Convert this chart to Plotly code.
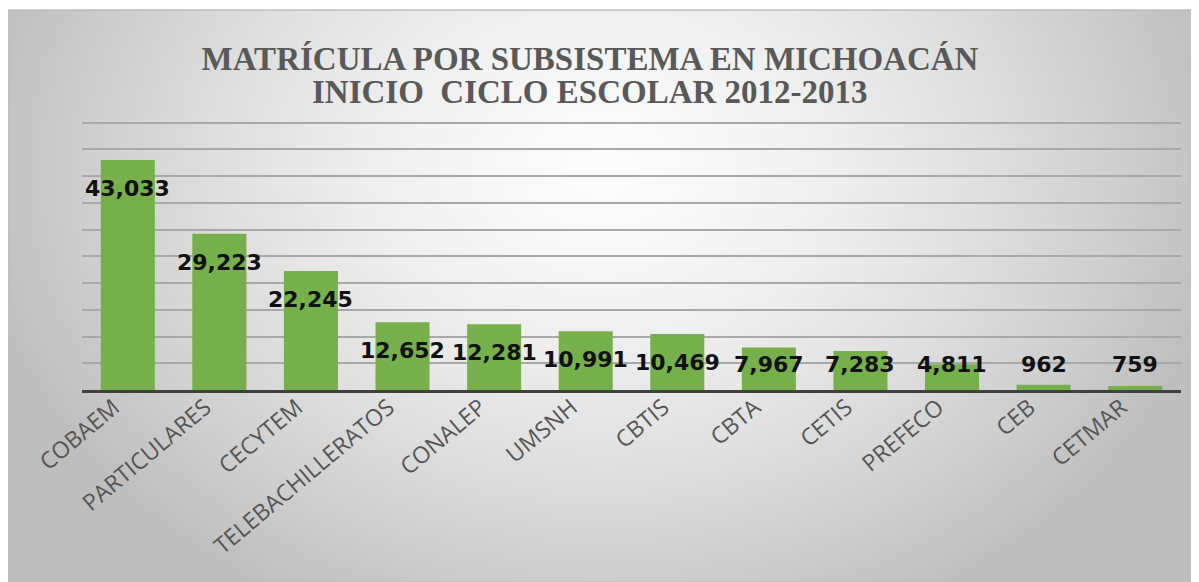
import base64, struct, zlib
import numpy as np
import plotly.graph_objects as go

categories = ["COBAEM", "PARTICULARES", "CECYTEM", "TELEBACHILLERATOS", "CONALEP",
              "UMSNH", "CBTIS", "CBTA", "CETIS", "PREFECO", "CEB", "CETMAR"]
values = [43033, 29223, 22245, 12652, 12281, 10991, 10469, 7967, 7283, 4811, 962, 759]
title_lines = ["MATRÍCULA POR SUBSISTEMA EN MICHOACÁN", "INICIO  CICLO ESCOLAR 2012-2013"]

# page body has an 8px margin; figure is sized to fit the window
W, H = 1191, 574
YMAX = 52000
ML, MR, MB = 74, 18, 192
PH = round(267 * YMAX / 50000)
MT = H - MB - PH
PW = W - ML - MR


def gradient_png():
    w, h = 240, 116
    xs = (np.arange(w) + 0.5) / w * 1193
    ys = (np.arange(h) + 0.5) / h * 572
    X, Y = np.meshgrid(xs, ys)
    d = np.sqrt(((X - 595) / 640) ** 2 + ((Y - 160) / 500) ** 2)
    d = np.clip(d, 0, 1)
    v = 252 - 62 * d ** 1.5
    arr = np.clip(v, 0, 255).astype(np.uint8)
    rgb = np.stack([arr, arr, arr], axis=-1)
    raw = b"".join(b"\x00" + rgb[i].tobytes() for i in range(h))

    def chunk(tag, data):
        c = tag + data
        return struct.pack(">I", len(data)) + c + struct.pack(">I", zlib.crc32(c) & 0xffffffff)

    png = b"\x89PNG\r\n\x1a\n" + chunk(b"IHDR", struct.pack(">IIBBBBB", w, h, 8, 2, 0, 0, 0)) \
        + chunk(b"IDAT", zlib.compress(raw, 9)) + chunk(b"IEND", b"")
    return "data:image/png;base64," + base64.b64encode(png).decode()


fig = go.Figure()
fig.add_trace(go.Bar(x=categories, y=values, marker=dict(color="#75b04b", line=dict(width=0)),
                     hoverinfo="x+y"))

for c, v in zip(categories, values):
    fig.add_annotation(x=c, y=max(v - 5300, 4700), text=f"{v:,}", showarrow=False,
                       font=dict(family="DejaVu Sans", size=22, color="#111111", weight="bold"),
                       xanchor="center", yanchor="middle")

title_font = dict(family="Liberation Serif", size=33, color="#595959", weight="bold")
fig.add_annotation(xref="paper", yref="paper", x=(582 - ML) / PW, y=(H - MB - 84) / PH,
                   text=title_lines[1], showarrow=False, font=title_font,
                   xanchor="center", yanchor="middle")

# background image (gradient frame)
fx0, fy0 = 0, 2
fig.add_layout_image(dict(source=gradient_png(), xref="paper", yref="paper",
                          x=(fx0 - ML) / PW, y=(H - MB - fy0) / PH,
                          sizex=(W - fx0) / PW, sizey=(H - fy0) / PH,
                          sizing="stretch", xanchor="left", yanchor="top", layer="below"))

fig.update_layout(
    width=W, height=H,
    margin=dict(l=ML, r=MR, t=MT, b=MB, autoexpand=False),
    paper_bgcolor="white", plot_bgcolor="rgba(0,0,0,0)",
    bargap=0.41,
    showlegend=False,
    title=dict(text=title_lines[0], x=582 / W, xanchor="center", y=1 - 50 / H, yanchor="middle",
               font=title_font),
    xaxis=dict(showline=True, linecolor="#404040", linewidth=3, ticks="", tickangle=-40,
               automargin=False, ticklabelstandoff=-8, ticklabelshift=-14,
               tickfont=dict(family="Open Sans", size=23, color="#555555"), showgrid=False),
    yaxis=dict(range=[0, YMAX], tickvals=list(range(5000, 50001, 5000)), showticklabels=False,
               showgrid=True, automargin=False,
               gridcolor="#a8a8a8", gridwidth=1.5, zeroline=False),
)
fig.add_shape(type="rect", xref="paper", yref="paper",
              x0=(fx0 - ML) / PW, x1=(W - ML) / PW, y0=-MB / PH, y1=(H - MB - fy0) / PH,
              line=dict(color="#bdbdbd", width=1.5), fillcolor="rgba(0,0,0,0)", layer="below")

fig.write_html("out.html")
